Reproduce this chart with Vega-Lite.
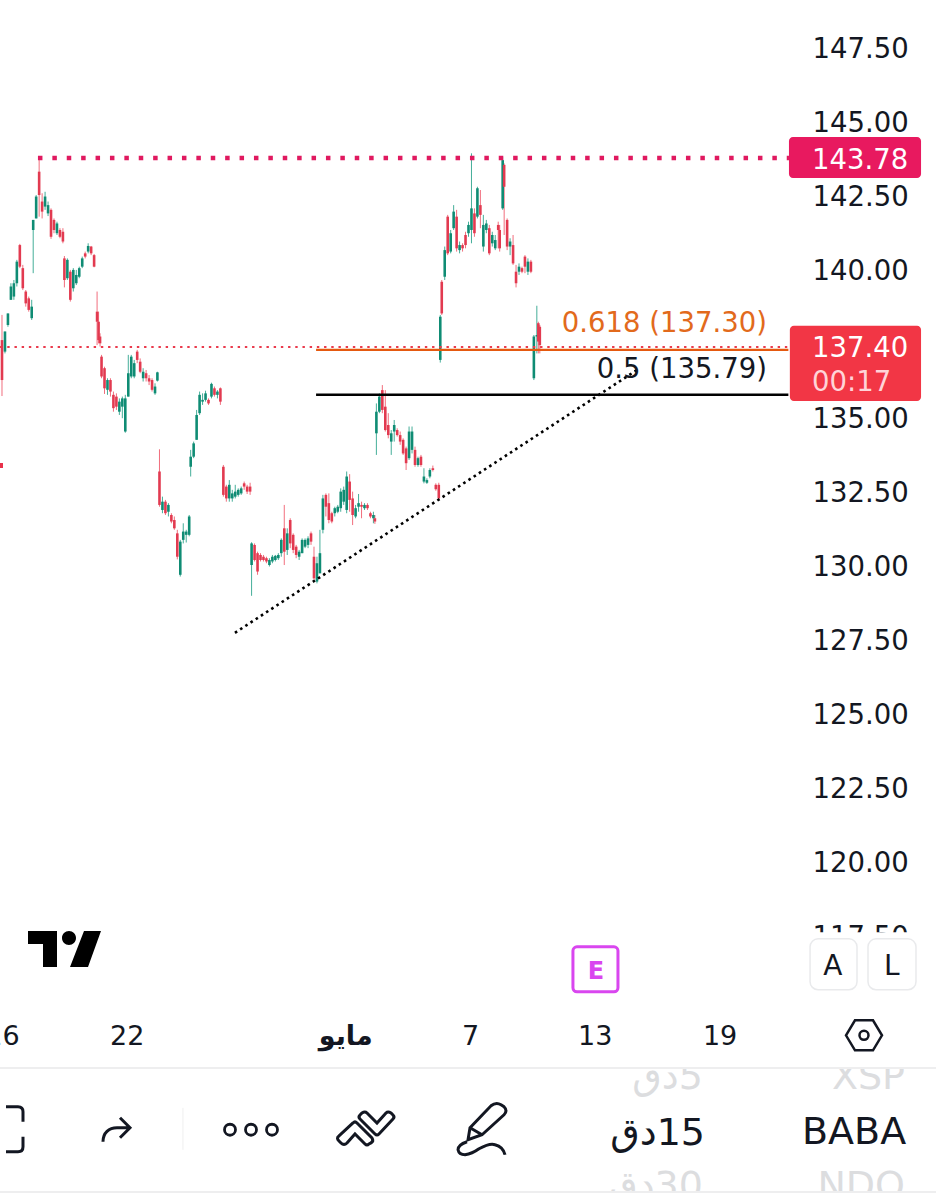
{
"$schema":"https://vega.github.io/schema/vega-lite/v6.json",
"width":936,"height":1199,"padding":0,"autosize":{"type":"none"},"background":"#ffffff",
"config":{"view":{"stroke":null},"font":"DejaVu Sans"},
"datasets":{"bars":[
{"b":0,"o":137.63,"h":138.48,"l":135.74,"c":136.28},{"b":2,"o":137.24,"h":137.92,"l":137.18,"c":137.92},{"b":4,"o":138.14,"h":138.53,"l":138.08,"c":138.53},{"b":6,"o":138.99,"h":139.55,"l":138.99,"c":139.44},{"b":8,"o":139.10,"h":139.66,"l":138.99,"c":139.55},{"b":10,"o":139.55,"h":140.34,"l":139.44,"c":140.28},{"b":12,"o":140.84,"h":140.88,"l":140.06,"c":140.11},{"b":14,"o":140.06,"h":140.17,"l":139.32,"c":139.38},{"b":16,"o":139.27,"h":139.32,"l":138.76,"c":138.87},{"b":18,"o":139.04,"h":139.10,"l":138.59,"c":138.65},{"b":20,"o":138.37,"h":138.99,"l":138.31,"c":138.76},
{"b":21,"o":141.35,"h":141.69,"l":139.89,"c":141.69},{"b":23,"o":141.74,"h":142.53,"l":141.74,"c":142.48},{"b":25,"o":143.32,"h":143.83,"l":141.80,"c":142.53},{"b":27,"o":142.31,"h":142.59,"l":141.74,"c":141.97},{"b":29,"o":142.14,"h":142.64,"l":142.03,"c":142.48},{"b":31,"o":141.91,"h":142.31,"l":141.82,"c":142.19},{"b":33,"o":142.03,"h":142.08,"l":141.05,"c":141.12},{"b":35,"o":141.69,"h":141.74,"l":141.24,"c":141.35},{"b":37,"o":141.24,"h":141.63,"l":141.18,"c":141.57},{"b":39,"o":141.35,"h":141.41,"l":141.07,"c":141.12},{"b":41,"o":141.29,"h":141.41,"l":140.90,"c":140.96},
{"b":42,"o":140.39,"h":140.47,"l":139.41,"c":139.66},{"b":44,"o":139.72,"h":140.39,"l":139.66,"c":140.34},{"b":46,"o":139.94,"h":140.0,"l":138.93,"c":138.99},{"b":48,"o":139.38,"h":140.06,"l":139.27,"c":140.0},{"b":50,"o":139.55,"h":140.0,"l":139.49,"c":139.83},{"b":52,"o":139.77,"h":140.11,"l":139.72,"c":140.06},{"b":54,"o":140.11,"h":140.45,"l":140.06,"c":140.39},{"b":56,"o":140.56,"h":140.62,"l":140.39,"c":140.45},{"b":58,"o":140.62,"h":140.90,"l":140.56,"c":140.81},{"b":60,"o":140.79,"h":140.81,"l":140.50,"c":140.56},{"b":62,"o":140.50,"h":140.54,"l":140.09,"c":140.11},
{"b":64,"o":138.59,"h":139.27,"l":137.46,"c":138.25},{"b":65,"o":138.25,"h":138.59,"l":137.52,"c":137.63},{"b":66,"o":137.75,"h":137.86,"l":137.41,"c":137.52},{"b":67,"o":137.07,"h":137.13,"l":136.34,"c":136.40},{"b":69,"o":136.68,"h":136.73,"l":135.81,"c":136.0},{"b":71,"o":135.95,"h":136.34,"l":135.78,"c":136.28},{"b":73,"o":136.28,"h":136.34,"l":135.72,"c":135.89},{"b":75,"o":135.78,"h":135.89,"l":135.21,"c":135.33},{"b":77,"o":135.72,"h":135.83,"l":135.27,"c":135.38},{"b":79,"o":135.21,"h":135.66,"l":135.10,"c":135.55},{"b":81,"o":135.38,"h":135.72,"l":134.99,"c":135.66},{"b":83,"o":134.54,"h":135.78,"l":134.50,"c":135.66},
{"b":85,"o":135.72,"h":137.13,"l":135.72,"c":136.51},{"b":87,"o":136.40,"h":137.13,"l":136.34,"c":137.07},{"b":89,"o":136.40,"h":136.96,"l":136.34,"c":136.85},{"b":91,"o":137.24,"h":137.30,"l":136.85,"c":136.96},{"b":93,"o":136.90,"h":137.01,"l":136.51,"c":136.56},{"b":95,"o":136.34,"h":136.68,"l":136.23,"c":136.56},{"b":97,"o":136.51,"h":136.62,"l":136.23,"c":136.34},{"b":99,"o":136.34,"h":136.45,"l":136.11,"c":136.23},{"b":101,"o":136.28,"h":136.34,"l":135.89,"c":135.95},{"b":103,"o":135.83,"h":136.17,"l":135.78,"c":136.06},{"b":104.6,"o":136.26,"h":136.56,"l":136.23,"c":136.54},
{"b":106,"o":133.19,"h":133.94,"l":132.0,"c":132.06},{"b":108,"o":131.89,"h":132.34,"l":131.78,"c":132.17},{"b":110,"o":132.17,"h":132.23,"l":131.72,"c":131.78},{"b":112,"o":131.83,"h":132.12,"l":131.67,"c":132.06},{"b":114,"o":131.72,"h":131.78,"l":131.44,"c":131.5},{"b":116,"o":131.55,"h":131.67,"l":131.22,"c":131.27},{"b":118,"o":131.10,"h":131.22,"l":130.22,"c":130.31},{"b":120,"o":129.70,"h":130.88,"l":129.64,"c":130.82},{"b":122,"o":130.88,"h":131.44,"l":130.76,"c":131.16},{"b":124,"o":131.05,"h":131.22,"l":130.79,"c":131.16},{"b":126,"o":131.05,"h":131.72,"l":131.0,"c":131.67},
{"b":127,"o":133.35,"h":133.92,"l":133.02,"c":133.69},{"b":129,"o":133.69,"h":134.2,"l":133.64,"c":134.14},{"b":131,"o":134.26,"h":135.27,"l":134.26,"c":135.10},{"b":133,"o":135.16,"h":135.89,"l":135.10,"c":135.78},{"b":135,"o":135.55,"h":135.83,"l":135.44,"c":135.61},{"b":137,"o":135.61,"h":135.92,"l":135.55,"c":135.83},{"b":139,"o":135.61,"h":135.66,"l":135.44,"c":135.49},{"b":141,"o":135.72,"h":136.19,"l":135.66,"c":136.15},{"b":143,"o":136.0,"h":136.06,"l":135.72,"c":135.78},{"b":145,"o":135.78,"h":135.94,"l":135.66,"c":135.89},{"b":147,"o":136.0,"h":136.03,"l":135.44,"c":135.55},
{"b":149,"o":133.35,"h":133.41,"l":132.34,"c":132.40},{"b":151,"o":132.68,"h":132.74,"l":132.17,"c":132.28},{"b":153,"o":132.28,"h":132.90,"l":132.17,"c":132.74},{"b":155,"o":132.28,"h":132.57,"l":132.17,"c":132.45},{"b":157,"o":132.34,"h":132.74,"l":132.28,"c":132.51},{"b":159,"o":132.40,"h":132.62,"l":132.34,"c":132.57},{"b":161,"o":132.45,"h":132.68,"l":132.40,"c":132.62},{"b":163,"o":132.79,"h":132.85,"l":132.57,"c":132.68},{"b":165,"o":132.68,"h":132.74,"l":132.43,"c":132.51},{"b":167,"o":132.68,"h":132.81,"l":132.40,"c":132.51},
{"b":168,"o":130.03,"h":130.80,"l":128.99,"c":130.76},{"b":170,"o":130.71,"h":130.76,"l":130.15,"c":130.2},{"b":172,"o":130.43,"h":130.48,"l":129.70,"c":129.81},{"b":174,"o":130.37,"h":130.43,"l":130.15,"c":130.2},{"b":176,"o":130.31,"h":130.37,"l":130.15,"c":130.2},{"b":178,"o":130.26,"h":130.31,"l":130.09,"c":130.15},{"b":180,"o":130.03,"h":130.26,"l":129.98,"c":130.2},{"b":182,"o":130.15,"h":130.37,"l":130.09,"c":130.31},{"b":184,"o":130.2,"h":130.37,"l":130.15,"c":130.34},{"b":186,"o":130.26,"h":130.43,"l":130.2,"c":130.37},{"b":188,"o":130.43,"h":130.93,"l":130.31,"c":130.88},
{"b":190,"o":131.27,"h":132.06,"l":130.03,"c":130.48},{"b":192,"o":130.54,"h":131.27,"l":130.37,"c":131.10},{"b":194,"o":131.55,"h":131.61,"l":130.6,"c":130.76},{"b":196,"o":131.05,"h":131.10,"l":130.43,"c":130.54},{"b":198,"o":130.65,"h":130.71,"l":130.26,"c":130.37},{"b":200,"o":130.31,"h":130.54,"l":130.2,"c":130.48},{"b":202,"o":130.43,"h":130.93,"l":130.43,"c":130.88},{"b":204,"o":130.65,"h":130.93,"l":130.6,"c":130.88},{"b":206,"o":130.71,"h":131.0,"l":130.6,"c":130.93},{"b":208,"o":131.10,"h":131.16,"l":130.71,"c":130.82},
{"b":210,"o":130.31,"h":130.65,"l":129.53,"c":129.58},{"b":212,"o":129.47,"h":130.31,"l":129.41,"c":130.09},{"b":214,"o":129.75,"h":131.22,"l":129.75,"c":130.43},{"b":216,"o":131.22,"h":132.40,"l":131.10,"c":132.28},{"b":218,"o":132.40,"h":132.45,"l":131.67,"c":132.0},{"b":220,"o":132.12,"h":132.45,"l":131.44,"c":131.55},{"b":222,"o":131.78,"h":131.83,"l":131.44,"c":131.5},{"b":224,"o":131.78,"h":132.0,"l":131.67,"c":131.95},{"b":226,"o":131.83,"h":132.06,"l":131.78,"c":132.0},{"b":228,"o":131.95,"h":132.62,"l":131.83,"c":132.51},{"b":230,"o":132.17,"h":132.68,"l":132.06,"c":132.57},
{"b":232,"o":131.89,"h":133.19,"l":131.78,"c":133.02},{"b":234,"o":132.85,"h":133.10,"l":131.83,"c":132.23},{"b":236,"o":132.28,"h":132.51,"l":131.38,"c":131.72},{"b":238,"o":131.67,"h":132.06,"l":131.61,"c":131.95},{"b":240,"o":132.0,"h":132.43,"l":131.83,"c":132.12},{"b":242,"o":132.06,"h":132.17,"l":131.61,"c":132.0},{"b":244,"o":131.95,"h":132.12,"l":131.89,"c":132.06},{"b":246,"o":132.06,"h":132.12,"l":131.89,"c":131.95},{"b":248,"o":131.78,"h":131.83,"l":131.61,"c":131.67},{"b":250,"o":131.61,"h":131.83,"l":131.44,"c":131.72},{"b":251,"o":131.61,"h":131.72,"l":131.42,"c":131.5},
{"b":252,"o":134.48,"h":135.49,"l":133.75,"c":135.21},{"b":254,"o":135.21,"h":135.83,"l":135.16,"c":135.72},{"b":256,"o":135.94,"h":136.11,"l":135.16,"c":135.27},{"b":258,"o":135.38,"h":135.94,"l":134.54,"c":134.59},{"b":260,"o":134.76,"h":135.16,"l":134.31,"c":134.42},{"b":262,"o":134.2,"h":134.59,"l":133.75,"c":134.48},{"b":264,"o":134.54,"h":134.93,"l":134.2,"c":134.76},{"b":266,"o":134.59,"h":134.65,"l":134.37,"c":134.42},{"b":268,"o":134.42,"h":134.54,"l":134.09,"c":134.2},{"b":270,"o":134.26,"h":134.31,"l":133.75,"c":133.8},{"b":272,"o":133.97,"h":134.03,"l":133.24,"c":133.47},
{"b":274,"o":133.64,"h":134.71,"l":133.58,"c":134.54},{"b":276,"o":133.92,"h":134.71,"l":133.8,"c":134.54},{"b":278,"o":133.92,"h":134.03,"l":133.35,"c":133.41},{"b":280,"o":133.41,"h":133.69,"l":133.35,"c":133.64},{"b":282,"o":133.69,"h":133.75,"l":133.35,"c":133.41},{"b":284,"o":132.85,"h":133.30,"l":132.79,"c":133.02},{"b":286,"o":132.81,"h":132.96,"l":132.77,"c":132.90},{"b":288,"o":133.02,"h":133.30,"l":132.96,"c":133.24},{"b":290,"o":133.30,"h":133.39,"l":133.19,"c":133.24},{"b":292,"o":132.74,"h":132.79,"l":132.54,"c":132.59},{"b":294,"o":132.74,"h":132.81,"l":132.23,"c":132.28},
{"b":295,"o":136.96,"h":138.48,"l":136.87,"c":138.42},{"b":296,"o":139.60,"h":139.66,"l":138.48,"c":138.53},{"b":298,"o":139.77,"h":140.79,"l":139.66,"c":140.67},{"b":300,"o":141.80,"h":141.86,"l":140.50,"c":140.56},{"b":302,"o":140.62,"h":141.35,"l":140.56,"c":141.24},{"b":304,"o":141.41,"h":142.19,"l":141.35,"c":141.97},{"b":306,"o":141.80,"h":142.03,"l":140.62,"c":140.73},{"b":308,"o":140.67,"h":140.96,"l":140.56,"c":140.84},{"b":310,"o":140.84,"h":140.90,"l":140.62,"c":140.73},{"b":312,"o":141.18,"h":141.29,"l":140.73,"c":140.84},
{"b":314,"o":141.24,"h":141.63,"l":141.12,"c":141.52},{"b":316,"o":141.35,"h":143.94,"l":140.90,"c":142.08},{"b":318,"o":141.91,"h":142.08,"l":141.12,"c":141.24},{"b":320,"o":141.80,"h":142.81,"l":141.74,"c":142.76},{"b":322,"o":142.19,"h":142.70,"l":141.41,"c":141.86},{"b":324,"o":140.79,"h":141.86,"l":140.62,"c":141.52},{"b":326,"o":141.35,"h":141.69,"l":141.24,"c":141.57},{"b":328,"o":141.41,"h":141.52,"l":140.50,"c":140.56},{"b":330,"o":140.90,"h":141.29,"l":140.79,"c":141.18},{"b":332,"o":140.73,"h":141.18,"l":140.67,"c":141.01},{"b":334,"o":141.52,"h":141.63,"l":140.73,"c":141.35},
{"b":335,"o":141.35,"h":141.52,"l":140.62,"c":140.73},{"b":337,"o":142.08,"h":143.83,"l":142.03,"c":143.71},{"b":338,"o":143.55,"h":143.60,"l":141.18,"c":142.81},{"b":340,"o":141.69,"h":141.74,"l":140.67,"c":140.79},{"b":342,"o":140.79,"h":141.07,"l":140.50,"c":140.96},{"b":344,"o":140.84,"h":141.18,"l":140.17,"c":140.22},{"b":346,"o":139.94,"h":140.17,"l":139.41,"c":139.55},{"b":348,"o":139.94,"h":140.22,"l":139.83,"c":140.11},{"b":350,"o":140.06,"h":140.11,"l":139.89,"c":139.94},{"b":352,"o":140.45,"h":140.50,"l":139.89,"c":140.11},{"b":354,"o":139.94,"h":140.39,"l":139.83,"c":140.28},{"b":356,"o":140.28,"h":140.34,"l":139.89,"c":139.94},
{"b":358,"o":136.34,"h":137.80,"l":136.28,"c":137.75},{"b":360,"o":137.75,"h":138.79,"l":137.18,"c":137.80},{"b":361,"o":138.20,"h":138.25,"l":137.18,"c":137.58},{"b":362,"o":138.08,"h":138.14,"l":137.18,"c":137.46}
]},
"encoding":{
"x":{"field":"b","type":"quantitative","title":null,"scale":{"domain":[-1.346,628.67],"nice":false,"zero":false},
"axis":{"orient":"bottom","offset":-163,"values":[0,84,231,315,399,483],"labelExpr":"datum.value==0?'16':datum.value==84?'22':datum.value==231?'مايو':datum.value==315?'7':datum.value==399?'13':'19'","labelFontSize":27,"labelColor":"#131722","labelPadding":0,"labelBaseline":"middle","labelAlign":"center","labelFont":"DejaVu Sans","labelFontWeight":{"condition":{"test":"datum.value==231","value":"bold"},"value":"normal"},"labelOverlap":false,"labelBound":false,"labelFlush":false,"ticks":false,"domain":false,"grid":false,"title":null,"zindex":1}}
},
"layer":[
{"data":{"name":"bars"},"mark":{"type":"rule","strokeWidth":1,"opacity":0.8},"encoding":{
"y":{"field":"l","type":"quantitative","title":null,"scale":{"domain":[108.61,149.12],"nice":false,"zero":false},
"axis":{"orient":"right","offset":-124,"values":[147.5,145,142.5,140,137.5,135,132.5,130,127.5,125,122.5,120,117.5],"format":".2f","labelFontSize":27.5,"labelColor":"#131722","labelPadding":0,"labelOffset":2,"labelAlign":"left","labelBaseline":"middle","labelFont":"DejaVu Sans","labelOverlap":false,"labelBound":false,"labelFlush":false,"ticks":false,"domain":false,"grid":false,"title":null,"zindex":0}},
"y2":{"field":"h"},
"color":{"condition":{"test":"datum.c>=datum.o","value":"#169a80"},"value":"#ee4a5d"}}},
{"data":{"name":"bars"},"mark":{"type":"rule","strokeWidth":2.6},"encoding":{
"y":{"field":"o","type":"quantitative","title":null},"y2":{"field":"c"},
"color":{"condition":{"test":"datum.c>=datum.o","value":"#0f8c74"},"value":"#e23a50"}}},
{"data":{"values":[{"b":-1.3,"b2":529.7,"p":137.4}]},"mark":{"type":"rule","stroke":"#ea3a4c","strokeWidth":2,"strokeDash":[2.4,4.8]},"encoding":{"y":{"field":"p","type":"quantitative","title":null},"x2":{"field":"b2"}}},
{"data":{"values":[{"b":211.4,"b2":529.3,"p":137.3}]},"mark":{"type":"rule","stroke":"#e5590f","strokeWidth":2.2},"encoding":{"y":{"field":"p","type":"quantitative","title":null},"x2":{"field":"b2"}}},
{"data":{"values":[{"b":211.4,"b2":529.3,"p":135.78}]},"mark":{"type":"rule","stroke":"#000000","strokeWidth":2.5},"encoding":{"y":{"field":"p","type":"quantitative","title":null},"x2":{"field":"b2"}}},
{"data":{"values":[{"b":24.2,"b2":529.7,"p":143.78}]},"mark":{"type":"rule","stroke":"#e0195f","strokeWidth":4.5,"strokeDash":[4.5,9.9]},"encoding":{"y":{"field":"p","type":"quantitative","title":null},"x2":{"field":"b2"}}},
{"data":{"values":[{"b":156.8,"p":127.74},{"b":427.4,"p":136.62}]},"mark":{"type":"line","stroke":"#000000","strokeWidth":2.6,"strokeDash":[2.6,3.6]},"encoding":{"y":{"field":"p","type":"quantitative","title":null}}},
{"data":{"values":[{"b":-1.35,"b2":0.67,"p":133.48,"p2":133.31}]},"mark":{"type":"rect","fill":"#e8314a"},"encoding":{"y":{"field":"p","type":"quantitative","title":null},"y2":{"field":"p2"},"x2":{"field":"b2"}}},
{"data":{"values":[{"b":-1.346,"b2":628.67,"p":117.62,"p2":108.61}]},"mark":{"type":"rect","fill":"#ffffff"},"encoding":{"y":{"field":"p","type":"quantitative","title":null},"y2":{"field":"p2"},"x2":{"field":"b2"}}},
{"data":{"values":[{"b":529.7,"b2":618.6,"p":144.49,"p2":143.11}]},"mark":{"type":"rect","fill":"#e8195f","cornerRadius":4},"encoding":{"y":{"field":"p","type":"quantitative","title":null},"y2":{"field":"p2"},"x2":{"field":"b2"}}},
{"data":{"values":[{"b":530.3,"b2":618.6,"p":138.11,"p2":135.57}]},"mark":{"type":"rect","fill":"#f23645","cornerRadius":4},"encoding":{"y":{"field":"p","type":"quantitative","title":null},"y2":{"field":"p2"},"x2":{"field":"b2"}}},
{"data":{"values":[{"b":543.9,"b2":575.5,"p":117.4,"p2":115.68},{"b":582.9,"b2":615.2,"p":117.4,"p2":115.68}]},"mark":{"type":"rect","fill":"#ffffff","stroke":"#e9eaec","strokeWidth":1.5,"cornerRadius":8},"encoding":{"y":{"field":"p","type":"quantitative","title":null},"y2":{"field":"p2"},"x2":{"field":"b2"}}},
{"data":{"values":[{"b":384.3,"b2":414.6,"p":117.13,"p2":115.61}]},"mark":{"type":"rect","fill":"#ffffff","stroke":"#d946ef","strokeWidth":3,"cornerRadius":4},"encoding":{"y":{"field":"p","type":"quantitative","title":null},"y2":{"field":"p2"},"x2":{"field":"b2"}}},
{"data":{"values":[{"b":471.8,"p":112.76,"t":"\u200f5دق"},{"b":471.8,"p":109.09,"t":"\u200f30دق"},{"b":607.8,"p":112.76,"t":"XSP"},{"b":607.8,"p":109.09,"t":"NDQ"}]},"mark":{"type":"text","align":"right","baseline":"middle","dy":2,"fontSize":38,"font":"DejaVu Sans","fill":"#dcdddf"},"encoding":{"y":{"field":"p","type":"quantitative","title":null},"text":{"field":"t"}}},
{"data":{"values":[{"b":-1.346,"b2":628.67,"p":113.95,"p2":113.07},{"b":-1.346,"b2":628.67,"p":108.82,"p2":108.61}]},"mark":{"type":"rect","fill":"#ffffff"},"encoding":{"y":{"field":"p","type":"quantitative","title":null},"y2":{"field":"p2"},"x2":{"field":"b2"}}},
{"data":{"values":[{"b":-1.346,"b2":628.67,"p":113.04},{"b":-1.346,"b2":628.67,"p":108.85}]},"mark":{"type":"rule","stroke":"#eeeeef","strokeWidth":2},"encoding":{"y":{"field":"p","type":"quantitative","title":null},"x2":{"field":"b2"}}},
{"data":{"values":[{"b":121.8,"p":111.69,"p2":110.27}]},"mark":{"type":"rule","stroke":"#efefef","strokeWidth":1},"encoding":{"y":{"field":"p","type":"quantitative","title":null},"y2":{"field":"p2"}}},
{"data":{"values":[{"b":545.2,"p":143.75,"t":"143.78"},{"b":545.2,"p":137.4,"t":"137.40"}]},"mark":{"type":"text","align":"left","baseline":"middle","dy":2,"fontSize":27.5,"font":"DejaVu Sans","fill":"#ffffff"},"encoding":{"y":{"field":"p","type":"quantitative","title":null},"text":{"field":"t"}}},
{"data":{"values":[{"b":545.2,"p":136.25,"t":"00:17"}]},"mark":{"type":"text","align":"left","baseline":"middle","dy":2,"fontSize":27.5,"font":"DejaVu Sans","fill":"#ffd3d8"},"encoding":{"y":{"field":"p","type":"quantitative","title":null},"text":{"field":"t"}}},
{"data":{"values":[{"b":514.9,"p":138.24,"t":"0.618 (137.30)"}]},"mark":{"type":"text","align":"right","baseline":"middle","dy":2,"fontSize":27.5,"font":"DejaVu Sans","fill":"#e26a1c"},"encoding":{"y":{"field":"p","type":"quantitative","title":null},"text":{"field":"t"}}},
{"data":{"values":[{"b":514.9,"p":136.69,"t":"0.5 (135.79)"}]},"mark":{"type":"text","align":"right","baseline":"middle","dy":2,"fontSize":27.5,"font":"DejaVu Sans","fill":"#131722"},"encoding":{"y":{"field":"p","type":"quantitative","title":null},"text":{"field":"t"}}},
{"data":{"values":[{"b":538.5,"p":110.91,"t":"BABA"}]},"mark":{"type":"text","align":"left","baseline":"middle","dy":2,"fontSize":38,"font":"DejaVu Sans","fill":"#131722"},"encoding":{"y":{"field":"p","type":"quantitative","title":null},"text":{"field":"t"}}},
{"data":{"values":[{"b":473.2,"p":110.88,"t":"\u200f15دق"}]},"mark":{"type":"text","align":"right","baseline":"middle","dy":2,"fontSize":38,"font":"DejaVu Sans","fill":"#131722"},"encoding":{"y":{"field":"p","type":"quantitative","title":null},"text":{"field":"t"}}},
{"data":{"values":[{"b":559.3,"p":116.49,"t":"A"},{"b":599,"p":116.49,"t":"L"}]},"mark":{"type":"text","align":"center","baseline":"middle","dy":1,"fontSize":28,"font":"DejaVu Sans","fill":"#131722"},"encoding":{"y":{"field":"p","type":"quantitative","title":null},"text":{"field":"t"}}},
{"data":{"values":[{"b":399.8,"p":116.32,"t":"E"}]},"mark":{"type":"text","align":"center","baseline":"middle","dy":1,"fontSize":24,"fontWeight":"bold","font":"DejaVu Sans","fill":"#d946ef"},"encoding":{"y":{"field":"p","type":"quantitative","title":null},"text":{"field":"t"}}},
{"data":{"values":[{"b":42.07,"p":117.06}]},"mark":{"type":"point","size":4,"filled":true,"fill":"#000000","stroke":null,"opacity":1,"shape":"M-36.5 -18L-7.5 -18L-7.5 18L-21.5 18L-21.5 -5L-36.5 -5ZM11.5 -11A7 7 0 1 1 -2.5 -11A7 7 0 1 1 11.5 -11ZM19.5 -18L36.5 -18L23.5 18L5.5 18Z"},"encoding":{"y":{"field":"p","type":"quantitative","title":null}}},
{"data":{"values":[{"b":580.2,"p":114.14}]},"mark":{"type":"point","size":4,"filled":false,"stroke":"#131722","strokeWidth":2.5,"opacity":1,"shape":"M-18 0L-9 -15L9 -15L18 0L9 15L-9 15ZM4.5 0A4.5 4.5 0 1 1 -4.5 0A4.5 4.5 0 1 1 4.5 0Z"},"encoding":{"y":{"field":"p","type":"quantitative","title":null}}},
{"data":{"values":[{"b":8.75,"p":110.95}]},"mark":{"type":"point","size":4,"filled":false,"stroke":"#131722","strokeWidth":3,"opacity":1,"shape":"M-9 -23L3 -23Q8 -23 8 -18L8 -8M8 7L8 17Q8 22 3 22L-9 22"},"encoding":{"y":{"field":"p","type":"quantitative","title":null}}},
{"data":{"values":[{"b":77.4,"p":110.95}]},"mark":{"type":"point","size":4,"filled":false,"stroke":"#131722","strokeWidth":3,"opacity":1,"shape":"M-14 12C-14 3 -8 -2 0 -2L13 -2M3 -12L13 -2L3 8"},"encoding":{"y":{"field":"p","type":"quantitative","title":null}}},
{"data":{"values":[{"b":167.6,"p":110.95}]},"mark":{"type":"point","size":4,"filled":false,"stroke":"#131722","strokeWidth":2.8,"opacity":1,"shape":"M-15.5 0A5.5 5.5 0 1 1 -26.5 0A5.5 5.5 0 1 1 -15.5 0ZM5.5 0A5.5 5.5 0 1 1 -5.5 0A5.5 5.5 0 1 1 5.5 0ZM26.5 0A5.5 5.5 0 1 1 15.5 0A5.5 5.5 0 1 1 26.5 0Z"},"encoding":{"y":{"field":"p","type":"quantitative","title":null}}},
{"data":{"values":[{"b":245,"p":111.01}]},"mark":{"type":"point","size":4,"filled":false,"stroke":"#131722","strokeWidth":3,"opacity":1,"shape":"M-27 8L-13 -5Q-11 -7 -9 -5L6 10Q8 13 5 15L3 16Q1 18 -1 16L-11 6L-19 15Q-22 18 -25 15L-27 13Q-30 10 -27 8ZM-6 -9Q-8 -11 -6 -13L-4 -15Q-1 -17 1 -15L11 -5L20 -15Q22 -17 25 -15L27 -13Q29 -11 27 -9L13 6Q11 8 9 6Z"},"encoding":{"y":{"field":"p","type":"quantitative","title":null}}},
{"data":{"values":[{"b":333.2,"p":110.95}]},"mark":{"type":"point","size":4,"filled":false,"stroke":"#131722","strokeWidth":3,"opacity":1,"shape":"M-27 -2L-6 -24Q-1 -28 4 -25L7 -23Q11 -19 7 -15L-15 5L-29 10ZM-27 -2L-15 5M-30 12Q-39 15 -39 20Q-38 25 -32 25Q-25 24 -18 19Q-7 13 -2 15Q6 17 8 25"},"encoding":{"y":{"field":"p","type":"quantitative","title":null}}}
]
}
